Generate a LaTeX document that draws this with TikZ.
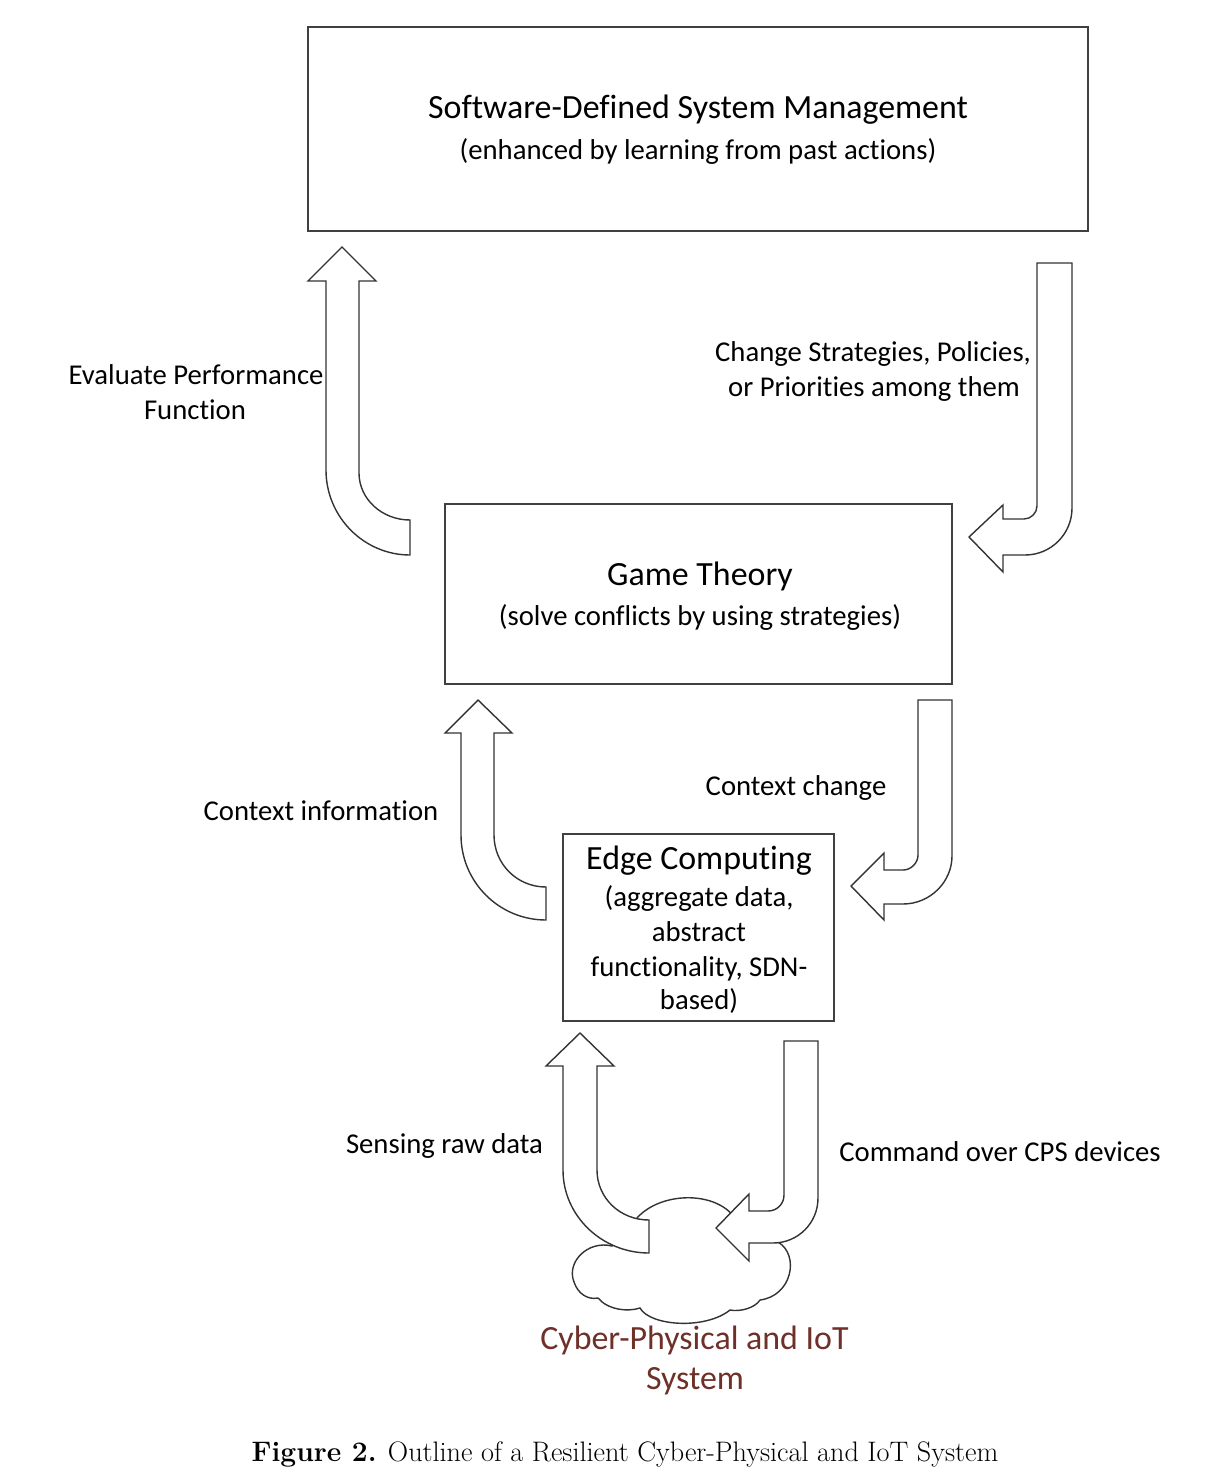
\documentclass[tikz,border=0pt]{standalone}
\usepackage{fontspec}
\setmainfont{Carlito}[Ligatures={NoCommon,NoRequired,NoContextual}]
\newfontfamily\capfont{Latin Modern Roman}
\definecolor{cloudtext}{RGB}{110,48,40}
\tikzset{
  boxnode/.style={draw=black!75, line width=1.3pt, fill=none},
  blockarrow/.style={draw=black!80, line width=1.4pt, fill=white, line join=miter},
  cloudline/.style={draw=black!80, line width=1.4pt, fill=white},
  ttl/.style={font=\fontsize{33.9}{40}\selectfont, anchor=base, inner sep=0pt},
  lbl/.style={font=\fontsize{28.7}{34}\selectfont, anchor=base, inner sep=0pt},
}
\begin{document}
\begin{tikzpicture}[x=1pt,y=-1pt]
\path[fill=white,use as bounding box] (0,0) rectangle (1218,1482);

% boxes
\node[boxnode, minimum width=780pt, minimum height=204pt, inner sep=0pt] (sdsm) at (698,129) {};
\node[boxnode, minimum width=507pt, minimum height=180pt, inner sep=0pt] (game) at (698.5,594) {};
\node[boxnode, minimum width=271pt, minimum height=187pt, inner sep=0pt] (edge) at (698.5,927.5) {};

% box texts
\node[ttl] (sdsmT) at (698,119) {Software-Defined System Management};
\node[lbl] (sdsmS) at (698,160) {(enhanced by learning from past actions)};
\node[ttl] (gameT) at (700,585) {Game Theory};
\node[lbl] (gameS) at (700,625) {(solve conflicts by using strategies)};
\node[ttl] (edgeT) at (699,869) {Edge Computing};
\node[lbl] (edgeA) at (699,906) {(aggregate data,};
\node[lbl] (edgeB) at (699,941) {abstract};
\node[lbl] (edgeC) at (699,976) {functionality, SDN-};
\node[lbl] (edgeD) at (699,1009) {based)};

% cloud
\path[cloudline] (612,1246) .. controls (588,1240) and (566,1262) .. (574,1282)
  .. controls (578,1294) and (588,1300) .. (598,1298)
  .. controls (608,1310) and (628,1312) .. (640,1308)
  .. controls (650,1326) and (705,1330) .. (730,1310)
  .. controls (740,1312) and (755,1308) .. (760,1300)
  .. controls (792,1296) and (800,1255) .. (778,1242)
  -- (735,1218)
  .. controls (715,1190) and (660,1192) .. (637,1218) -- cycle;

% block arrows
% Evaluate performance (up)
\path[blockarrow] (410,520) .. controls (382,520) and (359,499) .. (359,473)
  -- (359,281) -- (376,281) -- (342,247) -- (308,281) -- (326,281) -- (326,470)
  .. controls (326,517) and (364,555) .. (410,555) -- cycle;
% Change strategies (down)
\path[blockarrow] (1037,263) -- (1072,263) -- (1072,508)
  .. controls (1072,534) and (1051,555) .. (1025,555)
  -- (1003,555) -- (1003,572) -- (969,537) -- (1003,505) -- (1003,519) -- (1024,519)
  .. controls (1031,519) and (1037,513) .. (1037,506) -- cycle;
% Context information (up)
\path[blockarrow] (546,887) .. controls (517,887) and (494,864) .. (494,835)
  -- (494,733) -- (512,733) -- (478,700) -- (445,733) -- (461,733) -- (461,835)
  .. controls (461,882) and (499,920) .. (546,920) -- cycle;
% Context change (down)
\path[blockarrow] (918,700) -- (952,700) -- (952,856)
  .. controls (952,882) and (930,904) .. (903,904)
  -- (884,904) -- (884,920) -- (851,886) -- (884,853) -- (884,870) -- (903,870)
  .. controls (911,870) and (918,863) .. (918,855) -- cycle;
% Sensing raw data (up)
\path[blockarrow] (649,1220) .. controls (620,1220) and (597,1198) .. (597,1170)
  -- (597,1066) -- (614,1066) -- (580,1033) -- (546,1066) -- (563,1066) -- (563,1170)
  .. controls (563,1216) and (602,1253) .. (649,1253) -- cycle;
% Command over CPS devices (down)
\path[blockarrow] (784,1041) -- (818,1041) -- (818,1198)
  .. controls (818,1223) and (798,1243) .. (773,1243)
  -- (749,1243) -- (749,1261) -- (716,1228) -- (749,1194) -- (749,1211) -- (768,1211)
  .. controls (777,1211) and (784,1204) .. (784,1195) -- cycle;

% labels
\node[lbl] (evalA) at (196,384) {Evaluate Performance};
\node[lbl] (evalB) at (195,419) {Function};
\node[lbl] (chgA) at (873,361) {Change Strategies, Policies,};
\node[lbl] (chgB) at (874,396) {or Priorities among them};
\node[lbl] (ctxI) at (321,820) {Context information};
\node[lbl] (ctxC) at (796,795) {Context change};
\node[lbl] (sense) at (444.5,1153) {Sensing raw data};
\node[lbl] (cmd) at (1000,1161) {Command over CPS devices};
\node[ttl, text=cloudtext] (cpsA) at (694.5,1349) {Cyber-Physical and IoT};
\node[ttl, text=cloudtext] (cpsB) at (695,1389) {System};

% caption
\node[anchor=base, inner sep=0pt, font=\capfont\fontsize{28.2}{32}\selectfont] (cap) at (625,1461)
  {\textbf{Figure 2.} Outline of a Resilient Cyber-Physical and IoT System};
\end{tikzpicture}
\end{document}
